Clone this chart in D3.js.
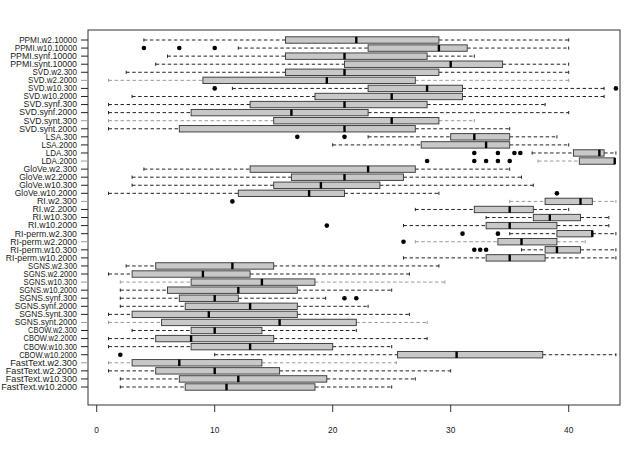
<!DOCTYPE html>
<html>
<head>
<meta charset="utf-8">
<script src="https://cdn.jsdelivr.net/npm/d3@7"></script>
<style>
  body { margin: 0; background: #fff; }
  svg text { font-family: "Liberation Sans", Arial, sans-serif; fill: #1a1a1a; }
</style>
</head>
<body>
<svg id="chart" width="640" height="455"></svg>
<script>
const models = [
  "PPMI.w2.10000", "PPMI.w10.10000", "PPMI.synf.10000", "PPMI.synt.10000",
  "SVD.w2.300", "SVD.w2.2000", "SVD.w10.300", "SVD.w10.2000",
  "SVD.synf.300", "SVD.synf.2000", "SVD.synt.300", "SVD.synt.2000",
  "LSA.300", "LSA.2000", "LDA.300", "LDA.2000",
  "GloVe.w2.300", "GloVe.w2.2000", "GloVe.w10.300", "GloVe.w10.2000",
  "RI.w2.300", "RI.w2.2000", "RI.w10.300", "RI.w10.2000",
  "RI-perm.w2.300", "RI-perm.w2.2000", "RI-perm.w10.300", "RI-perm.w10.2000",
  "SGNS.w2.300", "SGNS.w2.2000", "SGNS.w10.300", "SGNS.w10.2000",
  "SGNS.synf.300", "SGNS.synf.2000", "SGNS.synt.300", "SGNS.synt.2000",
  "CBOW.w2.300", "CBOW.w2.2000", "CBOW.w10.300", "CBOW.w10.2000",
  "FastText.w2.300", "FastText.w2.2000", "FastText.w10.300", "FastText.w10.2000"
];

// five-number summary per model (whisker ends, quartiles, median)
const lows = [4, 12, 6, 5, 2.5, 1, 11.5, 3, 1, 1, 1, 1,
  23, 20, 36.9, 37.4, 4, 3, 3, 1, 35, 27, 33, 26, 35, 27, 36, 26,
  2.5, 1, 2, 2, 2, 2, 1, 1, 3, 1, 1, 10, 1, 1, 2, 2];
const q1s = [16, 23, 16, 21, 16, 9, 23, 18.5, 13, 8, 15, 7,
  30, 27.5, 40.4, 40.9, 13, 16.5, 15, 12, 38, 32, 37, 33, 39, 34, 38, 33,
  5, 3, 8, 6, 7, 7.5, 3, 5.5, 8, 5, 8, 25.5, 3, 5, 7, 7.5];
const medians = [22, 29, 21, 30, 21, 19.5, 28, 25, 21, 16.5, 25, 21,
  32, 33, 42.6, 43.9, 23, 21, 19, 18, 41, 35, 38.4, 35, 42, 36, 39, 35,
  11.5, 9, 14, 12, 10, 13, 9.5, 15.5, 10, 8, 13, 30.5, 7, 10, 12, 11];
const q3s = [29, 31.4, 28, 34.4, 29, 27, 31, 31, 28, 23, 29, 27,
  35, 35, 43, 43.9, 27, 26, 24, 21, 42, 37, 41, 39, 42, 39, 41, 38,
  15, 13, 18.5, 17, 12, 17, 17, 22, 14, 15, 20, 37.8, 14, 15.5, 19.5, 18.5];
const highs = [40, 40, 32, 40, 40, 40, 43, 43, 38, 40, 32, 35,
  39, 40, 44, 43.9, 35, 36, 37, 29, 44, 40, 43.4, 43.4, 44, 41.4, 44, 44,
  29, 26.5, 29.5, 25, 19.4, 23, 26.5, 28, 22, 28, 25, 44, 25.4, 30, 27, 25];
const outliers = [
  [], [4, 7, 10], [], [], [], [], [10, 44], [], [], [], [], [],
  [17, 21], [], [32, 34, 35.4, 35.9], [28, 32, 33, 34, 35], [], [], [], [39],
  [11.5], [], [], [19.5], [31, 34], [26], [32, 32.5, 33], [],
  [], [], [], [], [21, 22], [], [], [], [], [], [], [2], [], [], [], []
];
const xTicks = [0, 10, 20, 30, 40];

const svg = d3.select("#chart");
const frame = { left: 88, right: 620, top: 30, bottom: 405 };

const x = d3.scaleLinear().domain([0, 40]).range([96.7, 568.7]);
const y = d3.scalePoint().domain(models).range([40, 387]);
const boxH = 6.4;

const rows = models.map((m, i) => ({
  model: m, i, lo: lows[i], q1: q1s[i], med: medians[i], q3: q3s[i], hi: highs[i], out: outliers[i]
}));

// every fifth row looks washed out in the source (resampling), mimic that
const lineCol = d => (d.i % 5 === 0 && d.i > 0) ? "#9a9a9a" : "#222";

const g = svg.append("g");
const row = g.selectAll("g.row").data(rows).join("g")
  .attr("class", "row")
  .attr("transform", d => `translate(0,${y(d.model)})`);

// whiskers
row.append("line")
  .attr("x1", d => x(d.lo)).attr("x2", d => x(d.q1))
  .attr("stroke", lineCol).attr("stroke-dasharray", "3.5,2.5");
row.append("line")
  .attr("x1", d => x(d.q3)).attr("x2", d => x(d.hi))
  .attr("stroke", lineCol).attr("stroke-dasharray", "3.5,2.5");
// staples
row.append("line")
  .attr("x1", d => x(d.lo)).attr("x2", d => x(d.lo))
  .attr("y1", -1.6).attr("y2", 1.6).attr("stroke", lineCol);
row.append("line")
  .attr("x1", d => x(d.hi)).attr("x2", d => x(d.hi))
  .attr("y1", -1.6).attr("y2", 1.6).attr("stroke", lineCol);
// box
row.append("rect")
  .attr("x", d => x(d.q1)).attr("y", -boxH / 2)
  .attr("width", d => x(d.q3) - x(d.q1)).attr("height", boxH)
  .attr("fill", "#c8c8c8").attr("stroke", "#333").attr("stroke-width", 0.9);
// median
row.append("line")
  .attr("x1", d => x(d.med)).attr("x2", d => x(d.med))
  .attr("y1", -boxH / 2).attr("y2", boxH / 2)
  .attr("stroke", "#000").attr("stroke-width", 2.4);
// outliers
row.selectAll("circle").data(d => d.out).join("circle")
  .attr("cx", v => x(v)).attr("cy", 0).attr("r", 2.3).attr("fill", "#000");

// frame
svg.append("rect")
  .attr("x", frame.left).attr("y", frame.top)
  .attr("width", frame.right - frame.left).attr("height", frame.bottom - frame.top)
  .attr("fill", "none").attr("stroke", "#333");

// y axis ticks + labels
const yAx = svg.append("g");
yAx.selectAll("line").data(rows).join("line")
  .attr("x1", frame.left - 7).attr("x2", frame.left)
  .attr("y1", d => y(d.model)).attr("y2", d => y(d.model))
  .attr("stroke", lineCol);
yAx.selectAll("text").data(rows).join("text")
  .attr("x", 77).attr("y", d => y(d.model)).attr("dy", "0.35em")
  .attr("text-anchor", "end").attr("font-size", 8.2)
  .attr("textLength", d => d.model.length * 4.45).attr("lengthAdjust", "spacingAndGlyphs")
  .text(d => d.model);

// x axis ticks + labels
const xAx = svg.append("g");
xAx.selectAll("line").data(xTicks).join("line")
  .attr("x1", d => x(d)).attr("x2", d => x(d))
  .attr("y1", frame.bottom).attr("y2", frame.bottom + 7)
  .attr("stroke", "#333");
xAx.selectAll("text").data(xTicks).join("text")
  .attr("x", d => x(d)).attr("y", 433)
  .attr("text-anchor", "middle").attr("font-size", 8.4)
  .text(d => d);
</script>
</body>
</html>
